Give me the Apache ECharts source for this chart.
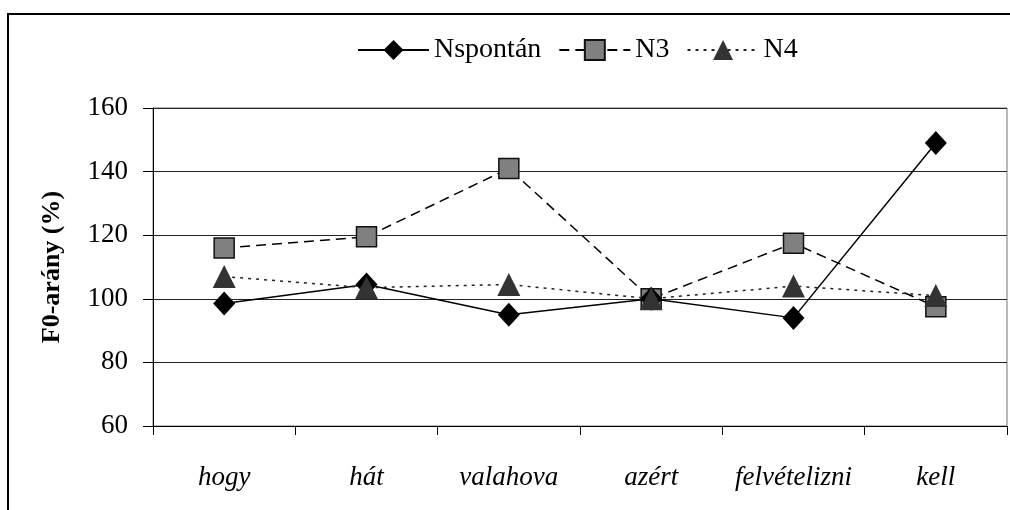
<!DOCTYPE html>
<html>
<head>
<meta charset="utf-8">
<script src="https://cdn.jsdelivr.net/npm/echarts@6/dist/echarts.min.js"></script>
<style>
  html, body { margin: 0; padding: 0; background: #fff; }
  #chart { width: 1010px; height: 510px; }
</style>
</head>
<body>
<div id="chart"></div>
<script>
const categories = ['hogy', 'hát', 'valahova', 'azért', 'felvételizni', 'kell'];
const nspontan = [98.5, 104.5, 95, 100, 94, 149];
const n3 = [116, 119.5, 141, 100, 117.5, 97.5];
const n4 = [107, 103.5, 104.5, 100, 104, 101];

const font = '"Liberation Serif", "Times New Roman", serif';
const chart = echarts.init(document.getElementById('chart'));

const option = {
  animation: false,
  backgroundColor: '#fff',
  textStyle: { fontFamily: font, color: '#000' },
  graphic: [{
    type: 'rect',
    shape: { x: 8, y: 14, width: 1100, height: 600 },
    style: { fill: 'none', stroke: '#000', lineWidth: 2 },
    silent: true
  }],
  legend: {
    left: 352,
    top: 31,
    itemWidth: 71,
    itemHeight: 25,
    itemGap: 17,
    textStyle: { fontFamily: font, fontSize: 28, color: '#000' },
    data: ['Nspontán', 'N3', 'N4']
  },
  grid: {
    left: 153,
    right: 3,
    top: 108,
    bottom: 84,
    show: true,
    borderColor: '#777',
    borderWidth: 1
  },
  xAxis: {
    type: 'category',
    data: categories,
    boundaryGap: true,
    axisLine: { lineStyle: { color: '#000', width: 1 } },
    axisTick: { show: true, interval: 0, length: 9, lineStyle: { color: '#000' } },
    axisLabel: {
      interval: 0,
      margin: 38,
      fontFamily: font,
      fontSize: 27,
      fontStyle: 'italic',
      color: '#000'
    }
  },
  yAxis: {
    type: 'value',
    min: 60,
    max: 160,
    interval: 20,
    name: 'F0-arány (%)',
    nameLocation: 'middle',
    nameRotate: 90,
    nameGap: 88,
    nameTextStyle: { fontFamily: font, fontSize: 26, fontWeight: 'bold', color: '#000' },
    axisLine: { show: true, lineStyle: { color: '#000', width: 1 } },
    axisTick: { show: true, length: 10, lineStyle: { color: '#000' } },
    axisLabel: { margin: 25, fontFamily: font, fontSize: 27, color: '#000' },
    splitLine: { show: true, lineStyle: { color: '#222', width: 1 } }
  },
  series: [
    {
      name: 'Nspontán',
      type: 'line',
      data: nspontan,
      symbol: 'diamond',
      symbolSize: [22, 24],
      itemStyle: { color: '#000', borderColor: '#000', borderWidth: 0 },
      lineStyle: { color: '#000', width: 1.5, type: 'solid' },
      z: 3
    },
    {
      name: 'N3',
      type: 'line',
      data: n3,
      symbol: 'rect',
      symbolSize: 20,
      itemStyle: { color: '#808080', borderColor: '#111', borderWidth: 1.5 },
      lineStyle: { color: '#000', width: 1.5, type: [10, 6] },
      z: 2
    },
    {
      name: 'N4',
      type: 'line',
      data: n4,
      symbol: 'triangle',
      symbolSize: [23, 23],
      itemStyle: { color: '#333', borderWidth: 0 },
      lineStyle: { color: '#222', width: 1.5, type: [3, 5] },
      z: 4
    }
  ]
};

chart.setOption(option);
</script>
</body>
</html>
